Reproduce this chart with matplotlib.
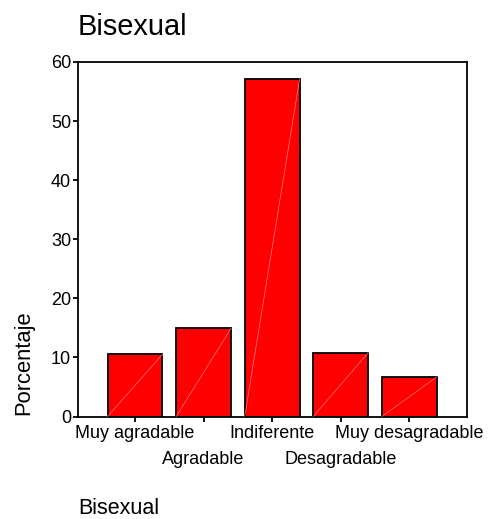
import numpy as np
from matplotlib import pyplot as plt

plt.rcParams['font.family'] = ['Liberation Sans', 'DejaVu Sans']

# Respuestas (porcentaje)
categorias = ['Muy agradable', 'Agradable', 'Indiferente', 'Desagradable', 'Muy desagradable']
porcentaje = [10.5, 14.9, 57.1, 10.8, 6.7]
yticks = [0, 10, 20, 30, 40, 50, 60]

W, H = 488, 519
fig = plt.figure(figsize=(W/72, H/72), dpi=72)
ax = fig.add_axes([78/W, 1-416.5/H, (467-78)/W, (416.5-62)/H])

x = np.arange(len(categorias))
w = 0.8
ax.bar(x, porcentaje, width=w, color='#ff0000', edgecolor='black', linewidth=1.8, zorder=2)

# thin light diagonal inside each bar
for xi, v in zip(x, porcentaje):
    ax.plot([xi-w/2, xi+w/2], [0, v], color='#ff8c8c', lw=0.6, zorder=3)

ax.set_xlim(-0.83, 4.84)
ax.set_ylim(0, 60)
ax.set_yticks(yticks)
ax.set_xticks(x)
ax.set_xticklabels(categorias)
for sp in ax.spines.values():
    sp.set_linewidth(1.8)
ax.tick_params(axis='both', direction='out', length=5, width=1.8, labelsize=18)
ax.tick_params(axis='y', pad=2)
ax.tick_params(axis='x', pad=3)
for t in ax.xaxis.get_major_ticks()[1::2]:
    t.set_pad(29)

fig.text(78/W, 1-35/H, 'Bisexual', fontsize=29, ha='left', va='baseline')
fig.text(24/W, 1-415/H, 'Porcentaje', fontsize=22, rotation=90, ha='center', va='bottom')
fig.text(78/W, 1-514/H, 'Bisexual', fontsize=21.5, ha='left', va='baseline')

plt.savefig('out.png', dpi=72)
